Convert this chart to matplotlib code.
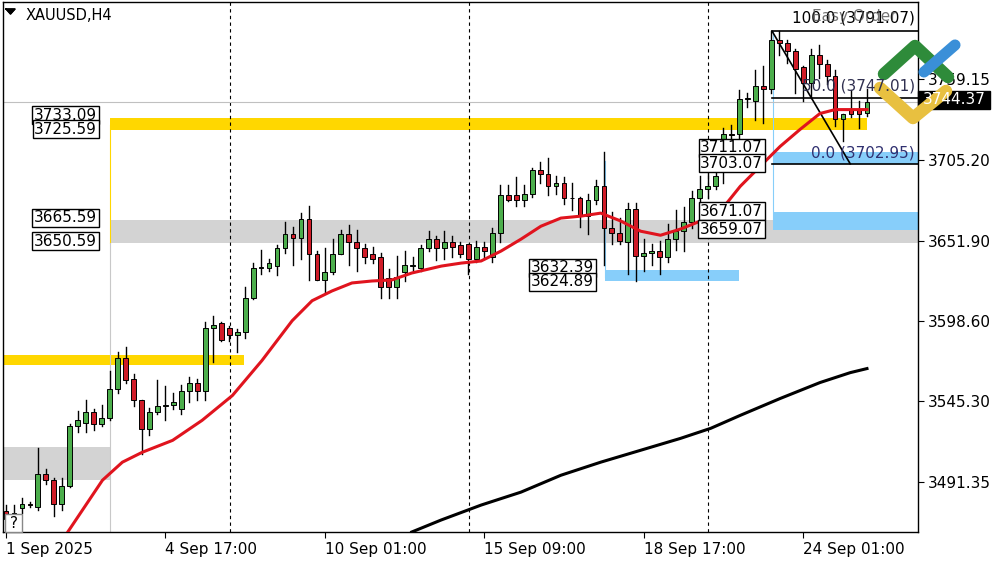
import matplotlib
matplotlib.use("Agg")
import matplotlib.pyplot as plt
from matplotlib.patches import Rectangle

# --- data ---------------------------------------------------------------------
opens = [3472, 3468, 3474, 3477, 3475, 3497, 3493, 3477, 3489, 3529,
         3531, 3538, 3530, 3534, 3553, 3574, 3560, 3546, 3527, 3538,
         3542, 3543, 3540, 3552, 3557, 3552, 3594, 3597, 3594, 3589,
         3591, 3614, 3634, 3634, 3635, 3647, 3656, 3654, 3666, 3643,
         3626, 3631, 3643, 3656, 3651, 3647, 3643, 3641, 3627, 3621,
         3631, 3635, 3634, 3647, 3653, 3647, 3651, 3649, 3650, 3640,
         3648, 3641, 3657, 3682, 3682, 3679, 3683, 3699, 3696, 3688,
         3690, 3680, 3680, 3668, 3679, 3688, 3660, 3657, 3651, 3673,
         3642, 3644, 3645, 3641, 3653, 3658, 3664, 3680, 3686, 3688,
         3699, 3723, 3723, 3746, 3745, 3755, 3753, 3785, 3783, 3778,
         3767, 3757, 3775, 3769, 3761, 3733, 3739, 3739, 3737]
closes = [3467, 3471, 3477, 3476, 3497, 3493, 3477, 3489, 3529, 3533,
          3538, 3530, 3534, 3553, 3574, 3559, 3546, 3527, 3538, 3542,
          3543, 3545, 3552, 3557, 3552, 3594, 3596, 3586, 3589, 3591,
          3614, 3634, 3634, 3637, 3647, 3656, 3654, 3666, 3643, 3626,
          3631, 3643, 3656, 3651, 3647, 3641, 3640, 3621, 3621, 3628,
          3636, 3635, 3647, 3653, 3647, 3651, 3648, 3643, 3640, 3648,
          3645, 3657, 3682, 3679, 3679, 3683, 3699, 3696, 3688, 3690,
          3680, 3680, 3668, 3679, 3688, 3660, 3657, 3652, 3673, 3642,
          3644, 3645, 3641, 3653, 3658, 3664, 3680, 3686, 3688, 3695,
          3723, 3722, 3746, 3746, 3755, 3753, 3785, 3783, 3778, 3766,
          3757, 3775, 3769, 3761, 3733, 3736, 3736, 3736, 3744.37]
highs = [3476, 3476, 3481, 3478, 3514, 3500, 3494, 3494, 3530, 3539,
         3546, 3540, 3543, 3565, 3578, 3581, 3563, 3546, 3541, 3559,
         3555, 3551, 3556, 3561, 3560, 3598, 3602, 3598, 3595, 3593,
         3621, 3637, 3646, 3640, 3649, 3664, 3661, 3670, 3675, 3645,
         3647, 3653, 3659, 3662, 3659, 3650, 3648, 3644, 3633, 3642,
         3645, 3641, 3649, 3658, 3655, 3658, 3655, 3651, 3650, 3652,
         3651, 3660, 3689, 3689, 3694, 3689, 3700, 3704, 3707, 3695,
         3694, 3690, 3681, 3683, 3692, 3711, 3671, 3667, 3677, 3677,
         3653, 3650, 3652, 3663, 3672, 3674, 3685, 3695, 3697, 3700,
         3727, 3729, 3752, 3750, 3765, 3768, 3791, 3791, 3785, 3779,
         3768, 3779, 3782, 3772, 3765, 3736, 3752, 3745, 3753]
lows = [3462, 3463, 3471, 3475, 3473, 3490, 3469, 3473, 3488, 3525,
        3525, 3526, 3529, 3533, 3551, 3557, 3542, 3510, 3523, 3537,
        3533, 3540, 3537, 3545, 3546, 3546, 3571, 3585, 3585, 3578,
        3587, 3613, 3630, 3632, 3629, 3644, 3636, 3640, 3626, 3626,
        3617, 3630, 3643, 3636, 3632, 3637, 3637, 3614, 3614, 3614,
        3625, 3632, 3632, 3645, 3639, 3640, 3641, 3641, 3630, 3638,
        3640, 3638, 3651, 3678, 3675, 3675, 3681, 3690, 3682, 3683,
        3676, 3672, 3661, 3656, 3676, 3636, 3650, 3650, 3630, 3625,
        3632, 3636, 3630, 3638, 3646, 3645, 3660, 3677, 3680, 3686,
        3690, 3718, 3720, 3741, 3732, 3730, 3750, 3775, 3770, 3750,
        3745, 3747, 3760, 3756, 3728, 3718, 3734, 3727, 3735]

ma_fast_x = [7.75, 12.1, 14.6, 17.1, 20.9, 24.6, 28.4, 32.1, 35.9, 38.4, 40.9,
             43.4, 45.9, 48.4, 50.9, 54.6, 57.1, 59.6, 62.1, 64.6, 67.1, 69.6,
             72.1, 74.6, 77.1, 79.6, 82.1, 84.6, 87.1, 89.6, 92.1, 94.6, 97.1,
             99.6, 102.1, 104.0, 108]
ma_fast_y = [3458.3, 3492.7, 3504.7, 3511.3, 3519.2, 3532.5, 3549.0, 3572.2,
             3598.7, 3612.0, 3618.5, 3623.8, 3625.1, 3625.8, 3630.4, 3635.0,
             3637.0, 3638.4, 3645.0, 3652.9, 3661.5, 3666.9, 3668.2, 3670.2,
             3665.0, 3658.2, 3655.5, 3659.6, 3664.9, 3671.5, 3688.0, 3701.3,
             3714.5, 3725.8, 3736.4, 3739.0, 3739.0]
ma_slow_x = [50.9, 54.6, 59.6, 64.6, 69.6, 74.6, 79.6, 84.6, 88.4, 92.1,
             97.1, 102.1, 105.9, 108]
ma_slow_y = [3458.3, 3466.3, 3476.2, 3484.8, 3496.0, 3504.7, 3512.6, 3520.5,
             3527.2, 3535.8, 3547.0, 3557.6, 3564.2, 3566.9]

price_ticks = [3759.15, 3705.20, 3651.90, 3598.60, 3545.30, 3491.35]
date_pos = [0, 20, 40, 60, 80, 100]
date_labels = ["1 Sep 2025", "4 Sep 17:00", "10 Sep 01:00", "15 Sep 09:00",
               "18 Sep 17:00", "24 Sep 01:00"]
last_price = 3744.37

# --- figure -------------------------------------------------------------------
W, H = 1000, 562
fig = plt.figure(figsize=(10, 5.62), dpi=100)
ax = fig.add_axes([0.003, 1 - 532 / H, 0.915, 530 / H])
XL = (-0.375, 114.4)
YL = (3458.3, 3810.5)
ax.set_xlim(*XL)
ax.set_ylim(*YL)
for s in ax.spines.values():
    s.set_color("black")
    s.set_linewidth(1)

# zones
def zone(x0, x1, lo, hi, color):
    ax.add_patch(Rectangle((x0, lo), x1 - x0, hi - lo, color=color, lw=0, zorder=1))

zone(13.1, 108, 3725.59, 3733.09, "#ffd700")
zone(13.1, XL[1], 3650.59, 3665.59, "#d3d3d3")
zone(XL[0], 29.9, 3569, 3576, "#ffd700")
zone(XL[0], 13.0, 3492.7, 3515, "#d3d3d3")
zone(96.25, XL[1], 3703.07, 3711.07, "#87cefa")
zone(96.25, XL[1], 3659.07, 3671.07, "#87cefa")
zone(75.1, 92, 3624.89, 3632.39, "#87cefa")
ax.plot([13.1, 13.1], [3650.59, 3729], color="#ffd700", lw=0.8, zorder=1)
ax.plot([13.0, 13.0], [YL[0], 3650.59], color="#c8c8c8", lw=0.8, zorder=1)
ax.plot([75.1, 75.1], [3628, 3705], color="#87cefa", lw=0.8, zorder=1)
ax.plot([96.25, 96.25], [3665, 3791.07], color="#87cefa", lw=0.8, zorder=1)

# grid-ish separators
for xv in [28.1, 58.1, 88.1]:
    ax.axvline(xv, color="black", ls=(0, (3, 3)), lw=0.8, zorder=1)
ax.axhline(last_price, color="#c0c0c0", lw=0.8, zorder=1)

# fibo
for lvl in [3791.07, 3747.01, 3702.95]:
    ax.plot([96.1, XL[1]], [lvl, lvl], color="black", lw=1.2, zorder=2)
ax.plot([96.1, 105.9], [3791.07, 3702.95], color="black", lw=1.2, zorder=2)

# candles
for i, (o, c, h, l) in enumerate(zip(opens, closes, highs, lows)):
    ax.plot([i, i], [l, h], color="black", lw=1, zorder=3)
    col = "#4cae4c" if c >= o else "#d01c28"
    ax.add_patch(Rectangle((i - 0.3, min(o, c)), 0.6, max(abs(c - o), 0.4),
                           facecolor=col, edgecolor="black", lw=0.7, zorder=4))

ax.plot(ma_fast_x, ma_fast_y, color="#e0141e", lw=2.2, zorder=5)
ax.plot(ma_slow_x, ma_slow_y, color="black", lw=2.2, zorder=5)

# axes ticks
ax.yaxis.tick_right()
ax.set_yticks(price_ticks)
ax.set_yticklabels([f"{p:.2f}" for p in price_ticks], fontsize=11)
ax.set_xticks(date_pos)
ax.set_xticklabels(date_labels, fontsize=11, ha="left")
ax.tick_params(length=4, pad=3)

# overlay in pixel coords
ov = fig.add_axes([0, 0, 1, 1])
ov.set_xlim(0, W)
ov.set_ylim(H, 0)
ov.axis("off")

ov.plot([6, 15, 10.5, 6], [9, 9, 14, 9], color="black", lw=1)
ov.fill([6, 15, 10.5], [9, 9, 14], color="black")
ov.text(26, 15, "XAUUSD,H4", fontsize=10.5, va="center")

def box_label(x, y, txt):
    ov.text(x, y, txt, fontsize=11, va="center", ha="right",
            bbox=dict(boxstyle="square,pad=0.1", fc="white", ec="black", lw=1))

box_label(97, 115, "3733.09")
box_label(97, 129, "3725.59")
box_label(97, 218, "3665.59")
box_label(97, 241, "3650.59")
box_label(763, 148, "3711.07")
box_label(763, 163, "3703.07")
box_label(763, 211, "3671.07")
box_label(763, 229, "3659.07")
box_label(594, 268, "3632.39")
box_label(594, 282, "3624.89")

ov.text(915, 18, "100.0 (3791.07)", fontsize=11, ha="right", va="center", color="black")
ov.text(915, 86, "50.0 (3747.01)", fontsize=11, ha="right", va="center", color="#303050")
ov.text(915, 153, "0.0 (3702.95)", fontsize=11, ha="right", va="center", color="#303070")
ov.text(812, 16, "Easy Order", fontsize=11, ha="left", va="center", color="#505050", alpha=0.8)

# price tag
ov.add_patch(Rectangle((918, 91), 72, 18, color="black"))
ov.text(954, 100, f"{last_price:.2f}", color="white", fontsize=11, ha="center", va="center")

# logo
ov.plot([884, 915, 948], [74, 46, 77], color="#2e8b3a", lw=9, solid_capstyle="round")
ov.plot([924, 955], [72, 45], color="#3a8fd8", lw=8, solid_capstyle="round")
ov.plot([880, 913, 946], [88, 118, 91], color="#e8c040", lw=9, solid_capstyle="round")

# help box
ov.add_patch(Rectangle((5, 514), 17, 18, fc="white", ec="#888888", lw=1))
ov.text(13.5, 523, "?", fontsize=11, ha="center", va="center")

fig.savefig("out.png", dpi=100)
